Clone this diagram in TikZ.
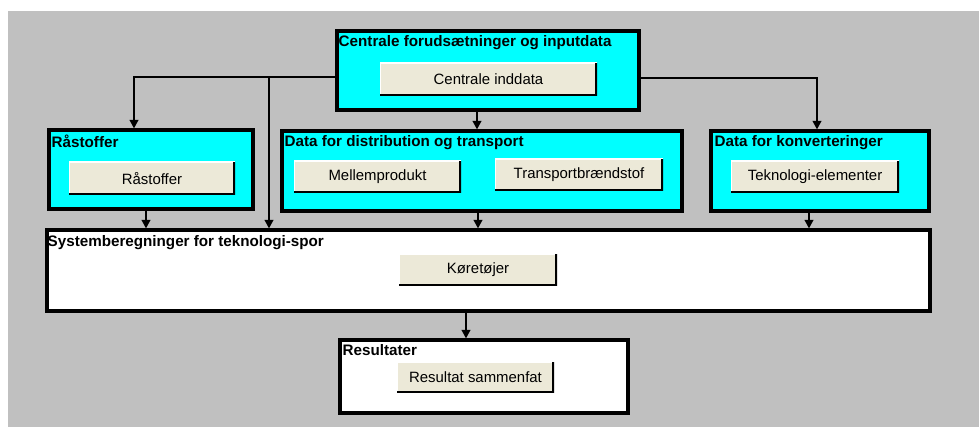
\documentclass[tikz,border=0pt]{standalone}
\usepackage{fontspec}
\setmainfont{Liberation Sans}
\usetikzlibrary{arrows.meta}
\definecolor{baggrund}{HTML}{C0C0C0}
\definecolor{turkis}{HTML}{00FFFF}
\definecolor{knapfarve}{HTML}{ECE9D8}
\begin{document}
\begin{tikzpicture}[x=0.75pt, y=-0.75pt,
	felt/.style 2 args={draw, line width=2.3pt, minimum width=#1*0.75pt, minimum height=#2*0.75pt, inner sep=0pt},
	knap/.style 2 args={fill=knapfarve, minimum width=#1*0.75pt, minimum height=#2*0.75pt, inner sep=0pt,
		font=\fontsize{11.2}{13}\selectfont,
		path picture={
			\draw[white, line width=2pt] (path picture bounding box.south west) |- (path picture bounding box.north east);
			\draw[black, line width=2.6pt] (path picture bounding box.south west) -| (path picture bounding box.north east);}},
	titel/.style={anchor=north west, inner sep=0pt, font=\bfseries\fontsize{11.4}{13}\selectfont},
	pil/.style={line width=1.5pt, -{Triangle[length=6.5pt, width=6.5pt]}}]
	\useasboundingbox (0,0) rectangle (979,427);
	\fill[baggrund] (8,11) rectangle (979,427);

	% felter
	\node[felt={302}{79}, fill=turkis] (central) at (488,70.5) {};
	\node[felt={204}{79}, fill=turkis] (raa) at (151,169.5) {};
	\node[felt={400}{80}, fill=turkis] (dist) at (482,171) {};
	\node[felt={218}{80}, fill=turkis] (konv) at (820,171) {};
	\node[felt={883}{81}, fill=white] (system) at (488.5,270.5) {};
	\node[felt={288}{73}, fill=white] (res) at (484,376.5) {};

	% titler
	\node[titel] at ([shift={(3,6)}]central.north west) {Centrale forudsætninger og inputdata};
	\node[titel] at ([shift={(4,6)}]raa.north west) {Råstoffer};
	\node[titel] at ([shift={(4,6)}]dist.north west) {Data for distribution og transport};
	\node[titel] at ([shift={(5,6)}]konv.north west) {Data for konverteringer};
	\node[titel] at ([shift={(2,7)}]system.north west) {Systemberegninger for teknologi-spor};
	\node[titel] at ([shift={(4,6)}]res.north west) {Resultater};

	% knapper
	\node[knap={217}{33}] (inddata) at (488.5,79.5) {Centrale inddata};
	\node[knap={166}{33}] (raastof) at (152,178.5) {Råstoffer};
	\node[knap={167}{32}] (mellem) at (377.5,177) {Mellemprodukt};
	\node[knap={168}{32}] (braend) at (579,175) {Transportbrændstof};
	\node[knap={168}{32}] (tekno) at (815,177) {Teknologi-elementer};
	\node[knap={158}{32}] (koer) at (478,270) {Køretøjer};
	\node[knap={157}{31}] (samlet) at (475.5,377.5) {Resultat sammenfat};

	% pile
	\coordinate (gren) at (269,77);
	\coordinate (c1) at ([shift={(-11,0)}]central.south);
	\coordinate (r1) at ([shift={(-5,0)}]raa.south);
	\coordinate (d1) at ([shift={(-4,0)}]dist.south);
	\coordinate (k1) at ([shift={(-11,0)}]konv.south);
	\coordinate (s1) at ([shift={(-22.5,0)}]system.south);
	\draw[pil] ([shift={(0,6.5)}]central.west) -| ([shift={(-17,0)}]raa.north);
	\draw[pil] (gren) -- (gren |- system.north);
	\draw[pil] (c1) -- (c1 |- dist.north);
	\draw[pil] ([shift={(0,7.5)}]central.east) -| ([shift={(-3,0)}]konv.north);
	\draw[pil] (r1) -- (r1 |- system.north);
	\draw[pil] (d1) -- (d1 |- system.north);
	\draw[pil] (k1) -- (k1 |- system.north);
	\draw[pil] (s1) -- (s1 |- res.north);
\end{tikzpicture}
\end{document}
